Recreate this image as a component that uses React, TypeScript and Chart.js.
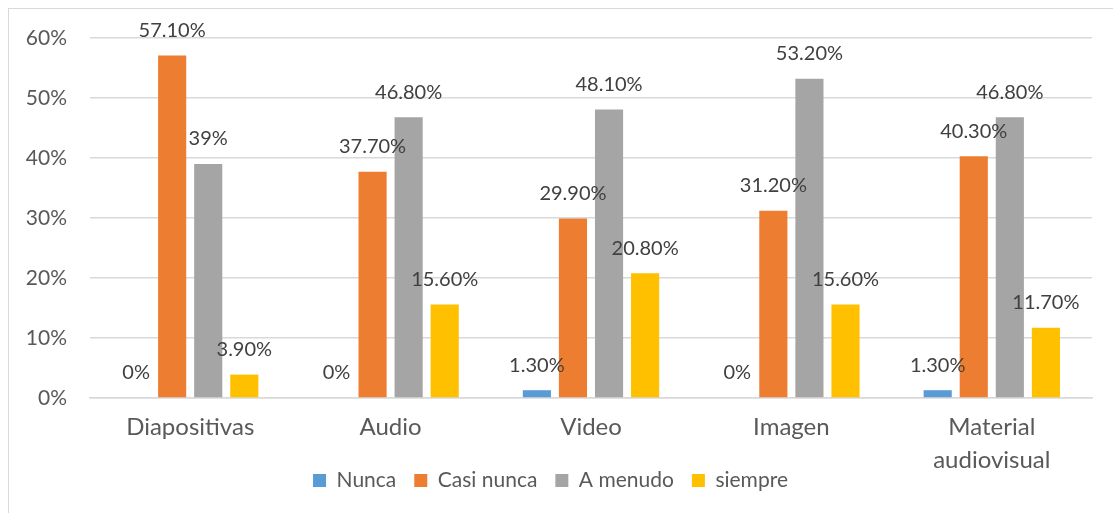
import React, { useEffect, useRef } from "react";
import { Chart, registerables } from "chart.js";

Chart.register(...registerables);

const categories: (string | string[])[] = ["Diapositivas", "Audio", "Video", "Imagen", ["Material", "audiovisual"]];
const seriesNames = ["Nunca", "Casi nunca", "A menudo", "siempre"];
const nunca = [0, 0, 1.3, 0, 1.3];
const casiNunca = [57.1, 37.7, 29.9, 31.2, 40.3];
const aMenudo = [39, 46.8, 48.1, 53.2, 46.8];
const siempre = [3.9, 15.6, 20.8, 15.6, 11.7];
const seriesColors = ["#5B9BD5", "#ED7D31", "#A5A5A5", "#FFC000"];
const yTicks = [0, 10, 20, 30, 40, 50, 60];

const FONT = "Lato, 'Open Sans', sans-serif";

function fmt(v: number): string {
  return Number.isInteger(v) ? `${v}%` : `${v.toFixed(2)}%`;
}

const labelPlugin = {
  id: "barLabels",
  afterDatasetsDraw(chart: any) {
    const ctx = chart.ctx;
    ctx.save();
    ctx.font = `20px ${FONT}`;
    ctx.fillStyle = "#404040";
    ctx.textAlign = "center";
    ctx.textBaseline = "middle";
    chart.data.datasets.forEach((ds: any, i: number) => {
      const meta = chart.getDatasetMeta(i);
      meta.data.forEach((bar: any, j: number) => {
        ctx.fillText(fmt(ds.data[j]), bar.x, bar.y - 25);
      });
    });
    ctx.restore();
  },
};

export default function App() {
  const ref = useRef<HTMLCanvasElement | null>(null);
  useEffect(() => {
    if (!ref.current) return;
    const seriesData = [nunca, casiNunca, aMenudo, siempre];
    const chart = new Chart(ref.current, {
      type: "bar",
      data: {
        labels: categories,
        datasets: seriesNames.map((name, i) => ({
          label: name,
          data: seriesData[i],
          backgroundColor: seriesColors[i],
          categoryPercentage: 0.72,
          barPercentage: 0.78,
        })),
      },
      options: {
        animation: false,
        responsive: false,
        layout: { padding: { left: 0, right: 21, top: 29, bottom: 12 } },
        plugins: {
          tooltip: { enabled: false },
          legend: {
            position: "bottom",
            labels: {
              boxWidth: 13,
              boxHeight: 13,
              padding: 18,
              color: "#595959",
              font: { family: FONT, size: 21 },
            },
          },
        },
        scales: {
          x: {
            grid: { display: false, drawTicks: false },
            border: { display: true, color: "#D9D9D9", width: 1.5 },
            ticks: {
              color: "#595959",
              padding: 13,
              maxRotation: 0,
              autoSkip: false,
              font: { family: FONT, size: 24, lineHeight: 1.38 },
            },
            afterFit(scale: any) {
              const lg = scale.chart.legend;
              const lh = lg ? lg.height : 0;
              scale.height = scale.chart.height - 389 - lh - 12;
              scale._computeLabelArea = () => undefined;
            },
          },
          y: {
            min: 0,
            max: 60,
            afterBuildTicks(scale: any) {
              scale.ticks = yTicks.map((v) => ({ value: v }));
            },
            grid: { color: "#D9D9D9", lineWidth: 1.5, drawTicks: false },
            border: { display: false },
            ticks: {
              color: "#595959",
              padding: 23,
              font: { family: FONT, size: 21 },
              callback: (v: any) => `${v}%`,
            },
            afterFit(scale: any) {
              scale.width = 81;
              scale.paddingTop = 0;
              scale.paddingBottom = 0;
            },
          },
        },
      },
      plugins: [labelPlugin],
    });
    return () => chart.destroy();
  }, []);
  return (
    <div
      style={{
        position: "fixed",
        left: 8,
        top: 8,
        width: 1110,
        height: 510,
        border: "1px solid #D9D9D9",
        boxSizing: "border-box",
        background: "#fff",
      }}
    >
      <canvas ref={ref} width={1104} height={504} style={{ display: "block" }} />
    </div>
  );
}
